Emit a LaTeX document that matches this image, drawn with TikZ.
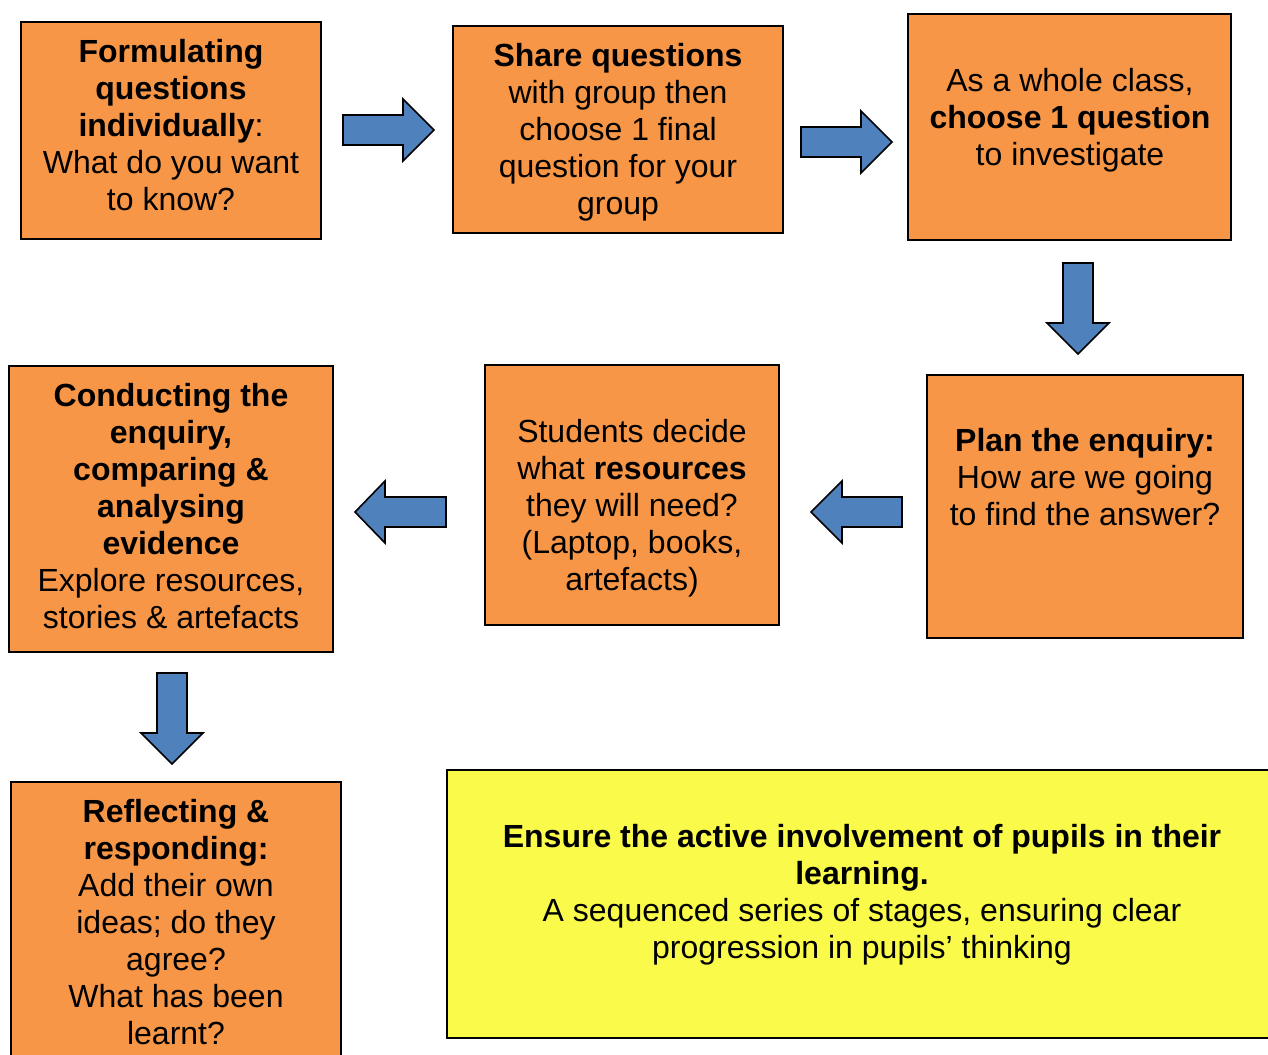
\documentclass[tikz,border=0pt]{standalone}
\usepackage{fontspec}
\setmainfont{Liberation Sans}
\definecolor{boxorange}{RGB}{247,150,70}
\definecolor{arrowblue}{RGB}{79,129,189}
\definecolor{noteyellow}{RGB}{250,250,75}
\begin{document}
\begin{tikzpicture}[x=1pt,y=-1pt,
  box/.style={draw=black,line width=1.6pt,fill=boxorange},
  note/.style={draw=black,line width=1.6pt,fill=noteyellow},
  txt/.style={inner sep=0pt,align=center,font=\fontsize{32}{37}\selectfont},
  blockarrow/.style={draw=black,line width=1.6pt,fill=arrowblue,line join=miter}]
\useasboundingbox (0,0) rectangle (1268,1054);
% boxes
\draw[box] (21,22) rectangle (321,239) node[midway] (b1) {};
\draw[box] (453,26) rectangle (783,233) node[midway] (b2) {};
\draw[box] (908,14) rectangle (1231,240) node[midway] (b3) {};
\draw[box] (927,375) rectangle (1243,638) node[midway] (b4) {};
\draw[box] (485,365) rectangle (779,625) node[midway] (b5) {};
\draw[box] (9,366) rectangle (333,652) node[midway] (b6) {};
\draw[box] (11,782) rectangle (341,1070) node[midway] (b7) {};
\draw[note] (447,770) rectangle (1280,1038) node[midway] (y1) {};
% texts
\node[txt] (t1) at (171,125) {\textbf{Formulating}\\\textbf{questions}\\\textbf{individually}:\\What do you want\\to know?};
\node[txt] (t2) at (618,132) {\textbf{Share questions}\\with group then\\choose 1 final\\question for your\\group};
\node[txt] (t3) at (1070,120) {As a whole class,\\\textbf{choose 1 question}\\to investigate};
\node[txt] (t4) at (1085,477) {\textbf{Plan the enquiry:}\\How are we going\\to find the answer?};
\node[txt] (t5) at (632,508) {Students decide\\what \textbf{resources}\\they will need?\\(Laptop, books,\\artefacts)};
\node[txt] (t6) at (171,506) {\textbf{Conducting the}\\\textbf{enquiry,}\\\textbf{comparing \&}\\\textbf{analysing}\\\textbf{evidence}\\Explore resources,\\stories \& artefacts};
\node[txt] (t7) at (176,922) {\textbf{Reflecting \&}\\\textbf{responding:}\\Add their own\\ideas; do they\\agree?\\What has been\\learnt?};
\node[txt] (t8) at (862,895) {\textbf{Ensure the active involvement of pupils in their}\\\textbf{learning.}\\A sequenced series of stages, ensuring clear\\progression in pupils’ thinking};
% block arrows
\draw[blockarrow] (343,115) -- (403,115) -- (403,99) -- (434,130) -- (403,161) -- (403,145) -- (343,145) -- cycle;
\draw[blockarrow] (801,127) -- (861,127) -- (861,111) -- (892,142) -- (861,173) -- (861,157) -- (801,157) -- cycle;
\draw[blockarrow] (1063,263) -- (1063,323) -- (1047,323) -- (1078,354) -- (1109,323) -- (1093,323) -- (1093,263) -- cycle;
\draw[blockarrow] (902,497) -- (842,497) -- (842,481) -- (811,512) -- (842,543) -- (842,527) -- (902,527) -- cycle;
\draw[blockarrow] (446,497) -- (385,497) -- (385,481) -- (355,512) -- (385,543) -- (385,527) -- (446,527) -- cycle;
\draw[blockarrow] (157,673) -- (157,733) -- (141,733) -- (172,764) -- (203,733) -- (187,733) -- (187,673) -- cycle;
\end{tikzpicture}
\end{document}
